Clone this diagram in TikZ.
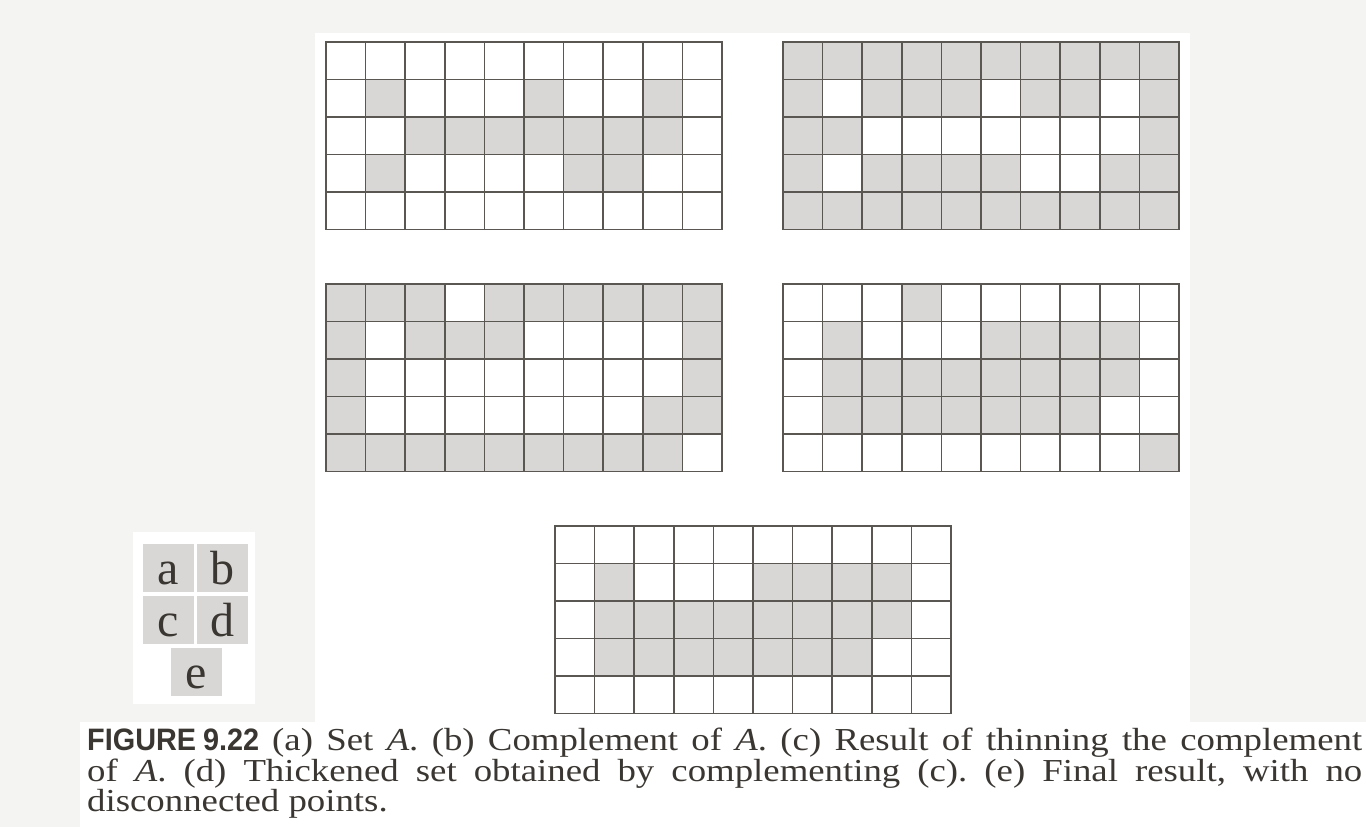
\documentclass[tikz,border=0pt]{standalone}
\usepackage{fontspec}
\setmainfont{Liberation Serif}
\newfontfamily\capfont[FakeStretch=1.15]{Liberation Serif}
\newfontfamily\figfont[FakeStretch=0.93]{Liberation Sans}
\definecolor{cellgray}{HTML}{D8D7D5}
\definecolor{gridline}{HTML}{5A5651}
\definecolor{paper}{HTML}{F4F4F3}
\definecolor{ink}{HTML}{3A3632}

\begin{document}
\begin{tikzpicture}[x=1pt,y=-1pt,
 cell/.style={fill=cellgray},
 gridlines/.style={draw=gridline,line width=1.7pt,line cap=rect},
 keybox/.style={fill=cellgray,minimum width=51pt,minimum height=48pt,inner sep=0pt,
   text height=33pt,text depth=0pt,text=ink,font=\fontsize{48}{48}\selectfont},
 captext/.style={text=ink,inner sep=0pt,text width=1275pt,align=justify,
   font=\capfont\fontsize{32}{25.5}\selectfont\frenchspacing}
]
 % page and white panels
 \fill[paper] (0,0) rectangle (1366,827);
 \fill[white] (315,33) rectangle (1190,722);
 \fill[white] (80,722) rectangle (1366,827);
 \fill[white] (133,532) rectangle (255,704);

 % the five 10x5 grids: origin x/y, then shaded cells col/row
 \foreach \gx/\gy/\cells in {
   326/42/{1/1,5/1,8/1,2/2,3/2,4/2,5/2,6/2,7/2,8/2,1/3,6/3,7/3},
   783/42/{0/0,1/0,2/0,3/0,4/0,5/0,6/0,7/0,8/0,9/0,
           0/1,2/1,3/1,4/1,6/1,7/1,9/1,0/2,1/2,9/2,
           0/3,2/3,3/3,4/3,5/3,8/3,9/3,
           0/4,1/4,2/4,3/4,4/4,5/4,6/4,7/4,8/4,9/4},
   326/284/{0/0,1/0,2/0,4/0,5/0,6/0,7/0,8/0,9/0,
            0/1,2/1,3/1,4/1,9/1,0/2,9/2,0/3,8/3,9/3,
            0/4,1/4,2/4,3/4,4/4,5/4,6/4,7/4,8/4},
   783/284/{3/0,1/1,5/1,6/1,7/1,8/1,
            1/2,2/2,3/2,4/2,5/2,6/2,7/2,8/2,
            1/3,2/3,3/3,4/3,5/3,6/3,7/3,9/4},
   555/526/{1/1,5/1,6/1,7/1,8/1,
            1/2,2/2,3/2,4/2,5/2,6/2,7/2,8/2,
            1/3,2/3,3/3,4/3,5/3,6/3,7/3}} {
   \foreach \c/\r in \cells
     \fill[cell] (\gx+\c*39.6,\gy+\r*37.5) rectangle ++(39.6,37.5);
   \foreach \i in {0,...,10}
     \draw[gridlines] (\gx+\i*39.6,\gy) -- ++(0,187.5);
   \foreach \j in {0,...,5}
     \draw[gridlines] (\gx,\gy+\j*37.5) -- ++(396,0);
 }

 % panel key
 \node[keybox] (ka) at (168.5,567.5) {a};
 \node[keybox] (kb) at (222.5,567.5) {b};
 \node[keybox] (kc) at (168.5,619.5) {c};
 \node[keybox] (kd) at (222.5,619.5) {d};
 \node[keybox] (ke) at (196,671.5) {e};

 % caption
 \node[captext,anchor=north west] (caption) at (87,728)
  {\mbox{\figfont\bfseries\fontsize{31}{25.5}\selectfont FIGURE\hspace{7pt}9.22}\hspace{13pt}(a) Set \textit{A}. (b) Complement of \textit{A}. (c) Result of thinning the complement\linebreak
   of \textit{A}. (d) Thickened set obtained by complementing (c). (e) Final result, with no\linebreak
   disconnected points.};
\end{tikzpicture}
\end{document}
